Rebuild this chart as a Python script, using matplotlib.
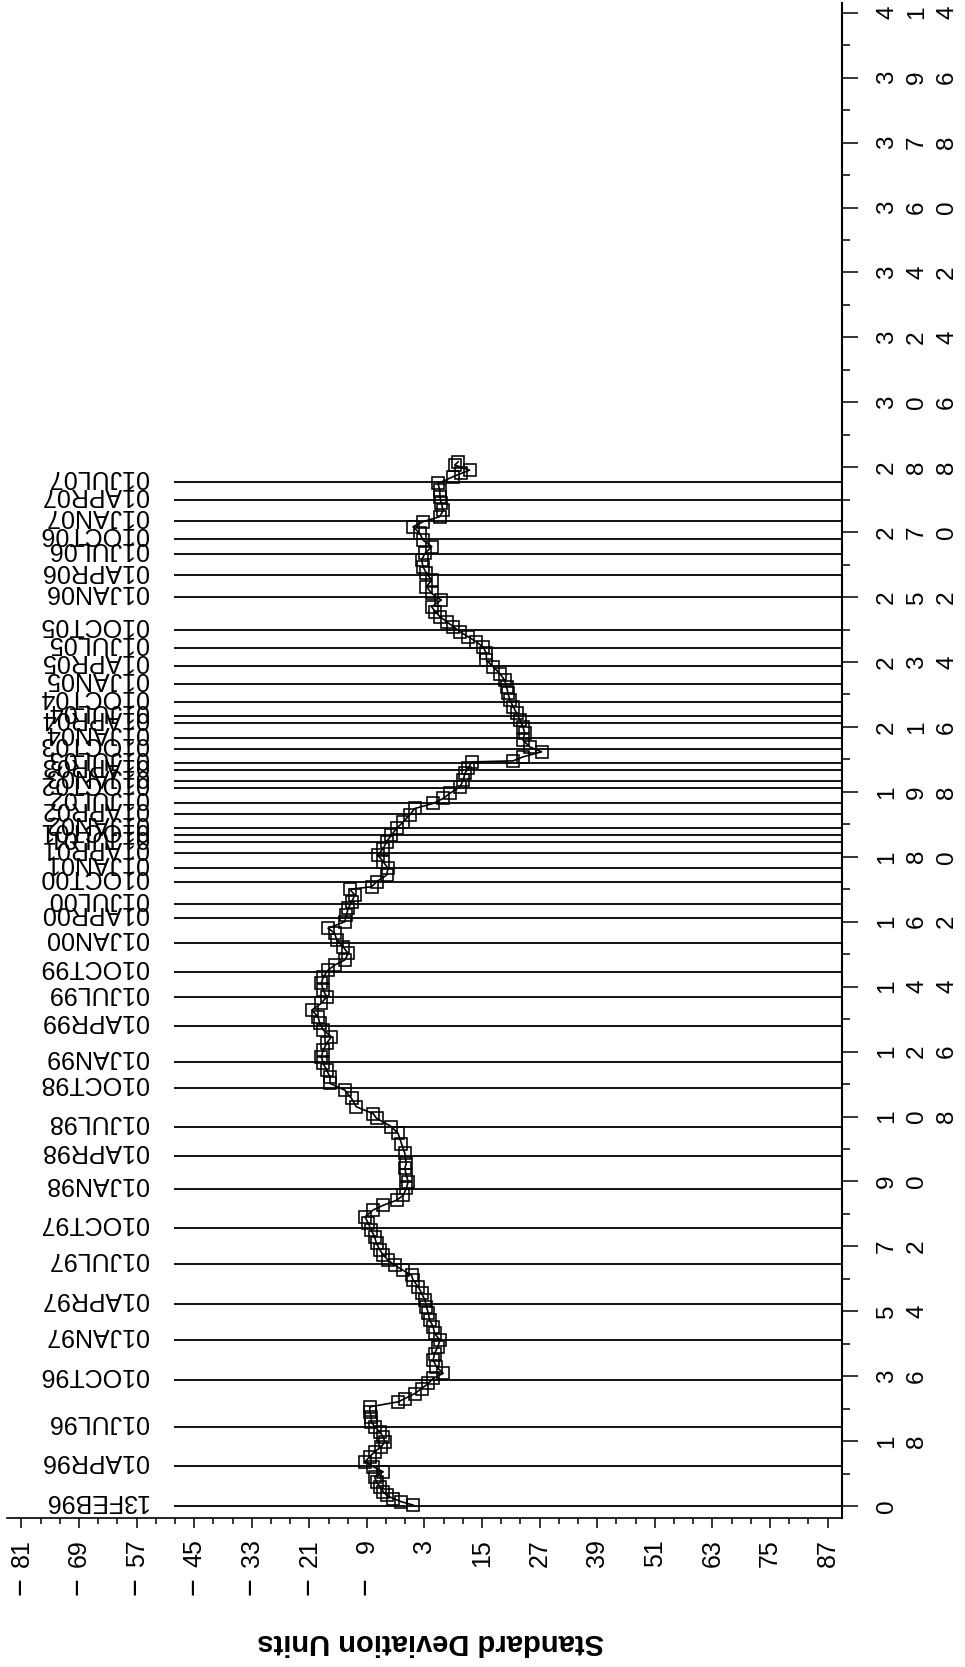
import matplotlib
matplotlib.use("Agg")
import matplotlib.pyplot as plt

plt.rcParams['font.family'] = ['Liberation Sans', 'DejaVu Sans']

# observation number of each reference date
date_labels = ['13FEB96', '01APR96', '01JUL96', '01OCT96', '01JAN97', '01APR97',
               '01JUL97', '01OCT97', '01JAN98', '01APR98', '01JUL98', '01OCT98',
               '01JAN99', '01APR99', '01JUL99', '01OCT99', '01JAN00', '01APR00',
               '01JUL00', '01OCT00', '01JAN01', '01APR01', '01JUL01', '01OCT01',
               '01JAN02', '01APR02', '01JUL02', '01OCT02', '01JAN03', '01APR03',
               '01JUL03', '01OCT03', '01JAN04', '01APR04', '01JUL04', '01OCT04',
               '01JAN05', '01APR05', '01JUL05', '01OCT05', '01JAN06', '01APR06',
               '01JUL06', '01OCT06', '01JAN07', '01APR07', '01JUL07']
date_obs = [0, 11, 22, 35, 46, 56, 67, 77, 88, 97, 105, 116, 123, 133, 141, 148,
            156, 163, 167, 173, 177, 181, 184, 186, 188, 192, 195, 199, 201, 204,
            206, 210, 213, 217, 219, 223, 228, 233, 238, 243, 252, 258, 264, 268,
            273, 279, 284]

obs = [0.3, 1.2, 2.1, 3.0, 4.0, 5.4, 6.7, 8.1, 9.5, 10.9,
       12.3, 13.7, 15.1, 16.4, 17.8, 19.2, 20.6, 22.0, 23.4, 24.8,
       26.1, 27.5, 28.9, 29.8, 31.2, 32.6, 34.0, 35.4, 36.8, 38.6,
       40.5, 42.3, 44.2, 46.0, 47.9, 49.7, 51.6, 53.4, 55.3, 57.1,
       59.0, 60.8, 62.7, 64.0, 65.4, 66.8, 68.2, 69.6, 71.0, 72.8,
       74.7, 76.5, 78.4, 80.2, 82.1, 83.4, 84.8, 86.2, 88.1, 89.9,
       91.8, 93.6, 95.0, 97.8, 100.5, 103.3, 105.2, 107.5, 108.8, 110.7,
       113.0, 115.3, 117.2, 119.0, 120.9, 122.7, 124.6, 126.4, 128.3, 130.1,
       132.0, 133.8, 135.7, 137.5, 139.4, 141.2, 143.0, 144.9, 146.7, 148.6,
       150.0, 151.4, 153.2, 155.1, 156.9, 158.8, 160.2, 162.0, 163.8, 165.7,
       167.5, 169.4, 171.0, 171.7, 173.1, 174.9, 176.8, 178.6, 180.5, 182.3,
       184.2, 186.0, 187.9, 189.7, 191.6, 193.4, 194.8, 196.2, 197.6, 199.4,
       201.3, 203.1, 204.5, 206.3, 206.6, 207.7, 209.1, 210.5, 212.4, 214.2,
       216.1, 217.9, 219.8, 221.6, 223.4, 225.3, 227.1, 229.0, 230.8, 232.7,
       234.5, 236.4, 238.2, 239.6, 241.0, 242.4, 243.8, 245.2, 246.6, 248.0,
       249.3, 251.2, 253.0, 254.9, 256.7, 258.6, 260.4, 262.3, 264.1, 266.0,
       267.8, 269.7, 271.5, 272.9, 274.3, 276.1, 278.0, 279.8, 281.7, 283.5,
       285.4, 286.3, 287.2, 288.6, 289.5]
sd = [0.6, -1.8, -3.5, -4.9, -5.6, -6.3, -7.0, -7.4, -5.6, -7.7,
      -9.4, -8.4, -7.4, -6.0, -5.3, -5.6, -6.3, -7.4, -8.1, -8.1,
      -8.4, -8.4, -2.5, -1.1, 1.0, 2.4, 3.8, 4.8, 6.9, 5.5,
      4.8, 5.1, 5.8, 6.2, 5.1, 4.8, 4.1, 3.8, 3.4, 3.1,
      2.4, 1.7, 0.6, 0.3, -1.5, -3.2, -4.6, -5.6, -6.3, -7.0,
      -7.4, -8.1, -8.7, -9.4, -7.7, -5.6, -2.8, -1.4, -0.8, -0.4,
      -0.8, -1.1, -0.8, -1.1, -1.8, -2.5, -3.9, -7.0, -7.7, -11.2,
      -12.2, -13.6, -16.7, -16.7, -17.4, -18.1, -18.5, -18.1, -17.4, -16.4,
      -18.1, -18.8, -19.2, -20.5, -18.5, -17.4, -18.1, -18.5, -18.1, -17.1,
      -15.7, -13.6, -12.9, -14.0, -15.3, -15.7, -17.1, -13.6, -13.3, -12.9,
      -12.2, -11.5, -12.6, -8.0, -7.0, -4.9, -4.6, -5.6, -6.7, -5.6,
      -4.9, -3.9, -2.8, -1.4, -0.1, 1.0, 4.8, 6.9, 8.3, 10.4,
      11.1, 11.4, 12.1, 12.8, 21.5, 23.5, 27.4, 24.9, 23.5, 23.9,
      23.5, 22.9, 22.2, 21.5, 20.8, 20.4, 20.1, 19.7, 18.7, 17.3,
      15.9, 15.9, 15.2, 13.8, 12.1, 10.4, 9.0, 7.6, 6.2, 5.2,
      4.5, 6.5, 4.5, 3.4, 4.5, 3.4, 2.7, 2.4, 3.1, 4.5,
      2.7, 2.0, 0.6, 2.7, 6.2, 6.9, 6.5, 6.2, 6.2, 5.8,
      9.0, 10.7, 12.4, 9.3, 10.0]

x_ticks = list(range(-81, 88, 12))
y_ticks = list(range(0, 415, 18))

W, H = 965, 1667
fig = plt.figure(figsize=(W / 100, H / 100), dpi=100)
ax = fig.add_axes([7 / W, 1 - 1518 / H, (842 - 7) / W, (1518 - 3) / H])
ax.set_xlim(-84, 90)
ax.set_ylim(-3.3, 416.7)

for s in ['left', 'top']:
    ax.spines[s].set_visible(False)
ax.spines['bottom'].set_linewidth(1.2)
ax.spines['right'].set_linewidth(1.5)

ax.yaxis.tick_right()
ax.set_xticks(x_ticks)
ax.set_xticks([v for v in range(-81, 88, 4) if (v + 81) % 12], minor=True)
ax.set_yticks(y_ticks)
ax.set_yticks(list(range(9, 415, 18)), minor=True)
ax.set_xticklabels([])
ax.set_yticklabels([])
ax.tick_params(axis='x', which='major', direction='out', length=7.2, width=1.1)
ax.tick_params(axis='x', which='minor', direction='out', length=4.3, width=1.1)
ax.tick_params(axis='y', which='major', direction='out', length=11.5, width=1.1)
ax.tick_params(axis='y', which='minor', direction='out', length=5.8, width=1.1)

# reference lines for dates
ax.hlines(date_obs, -49.2, 90, color='black', lw=1.3, zorder=1)
for lab, o in zip(date_labels, date_obs):
    ax.annotate(lab, xy=(-54.65, o), xytext=(0, 8.6), textcoords='offset points',
                rotation=180, rotation_mode='anchor', ha='left', va='baseline',
                fontsize=18, annotation_clip=False)

# the series
ax.plot(sd, obs, color='black', lw=1.2, marker='s', markersize=8.8,
        mfc='none', mec='black', mew=1.15, zorder=3, clip_on=False)

# bottom tick labels (rotated, minus sign sits apart)
for v in x_ticks:
    ax.annotate(str(abs(v)), xy=(v, 0), xycoords=('data', 'axes fraction'),
                xytext=(0, -15.1), textcoords='offset points', rotation=90,
                ha='center', va='top', fontsize=18, annotation_clip=False)
    if v < 0:
        ax.annotate('\u2212', xy=(v, 0), xycoords=('data', 'axes fraction'),
                    xytext=(0, -49), textcoords='offset points', rotation=90,
                    ha='center', va='center', fontsize=22, annotation_clip=False)

# right tick labels, one rotated digit after another
digit_px = [887, 917, 947]
for v in y_ticks:
    for ch, px in zip(str(v), digit_px):
        ax.annotate(ch, xy=(1, v), xycoords=('axes fraction', 'data'),
                    xytext=((px - 842) * 0.72, 0), textcoords='offset points',
                    rotation=90, ha='center', va='center', fontsize=17.5,
                    annotation_clip=False)

fig.text(431 / W, 1 - 1642 / H, 'Standard Deviation Units', rotation=180,
         ha='center', va='center', fontsize=21, fontweight='bold')

fig.savefig('out.png', dpi=100)
